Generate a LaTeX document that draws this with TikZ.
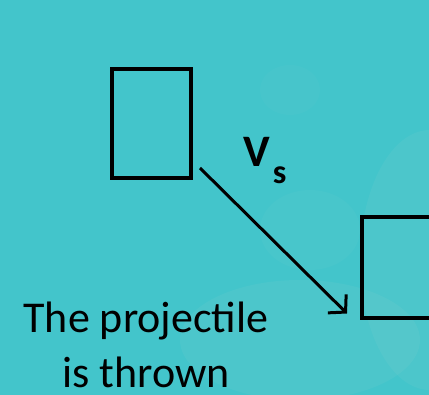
\documentclass[tikz,border=0pt]{standalone}
\usepackage{fontspec}
\setmainfont{Carlito}
\usepackage{tikz}
\usetikzlibrary{positioning, arrows.meta, calc}
\definecolor{SkyTeal}{HTML}{43C5CB}
\definecolor{CloudTeal}{HTML}{8ED3D3}

\begin{document}
\begin{tikzpicture}[
  x=1pt, y=-1pt,
  box/.style={draw=black, line width=4pt, inner sep=0pt, outer sep=0pt},
  velarr/.style={-{Straight Barb[length=12pt, width=26pt]}, line width=3pt, line cap=butt},
  lbl/.style={font=\fontsize{44}{55}\selectfont, align=center, inner sep=0pt},
]
% ===== background =====
  \useasboundingbox (0,0) rectangle (429,395);
  \clip (0,0) rectangle (429,395);
  \fill[SkyTeal] (0,0) rectangle (429,395);
  \fill[CloudTeal, opacity=0.12] (300,340) ellipse (120 and 60);
  \fill[CloudTeal, opacity=0.12] (430,260) ellipse (70 and 130);
  \fill[CloudTeal, opacity=0.08] (310,230) ellipse (50 and 40);
  \fill[CloudTeal, opacity=0.06] (290,90) ellipse (30 and 25);

% ===== objects =====
  \node[box, minimum width=79.5pt, minimum height=108.5pt]
    (start) at (151.25,123.75) {};
  \node[box, minimum width=120pt, minimum height=101pt, anchor=north west]
    (target) at (362,217.5) {};

% ===== velocity =====
  \draw[velarr] ([xshift=9pt, yshift=10pt]start.south east)
    -- ([xshift=-15pt, yshift=5pt]target.south west);
  \node[inner sep=0pt, anchor=base west] (vel) at (243,167)
    {\fontsize{45}{45}\selectfont\bfseries V\kern3pt\raisebox{-17pt}{\fontsize{34}{34}\selectfont s}};

% ===== caption =====
  \node[lbl, anchor=base] (caption) at (146,388) {The projectile\\is thrown};
\end{tikzpicture}
\end{document}
